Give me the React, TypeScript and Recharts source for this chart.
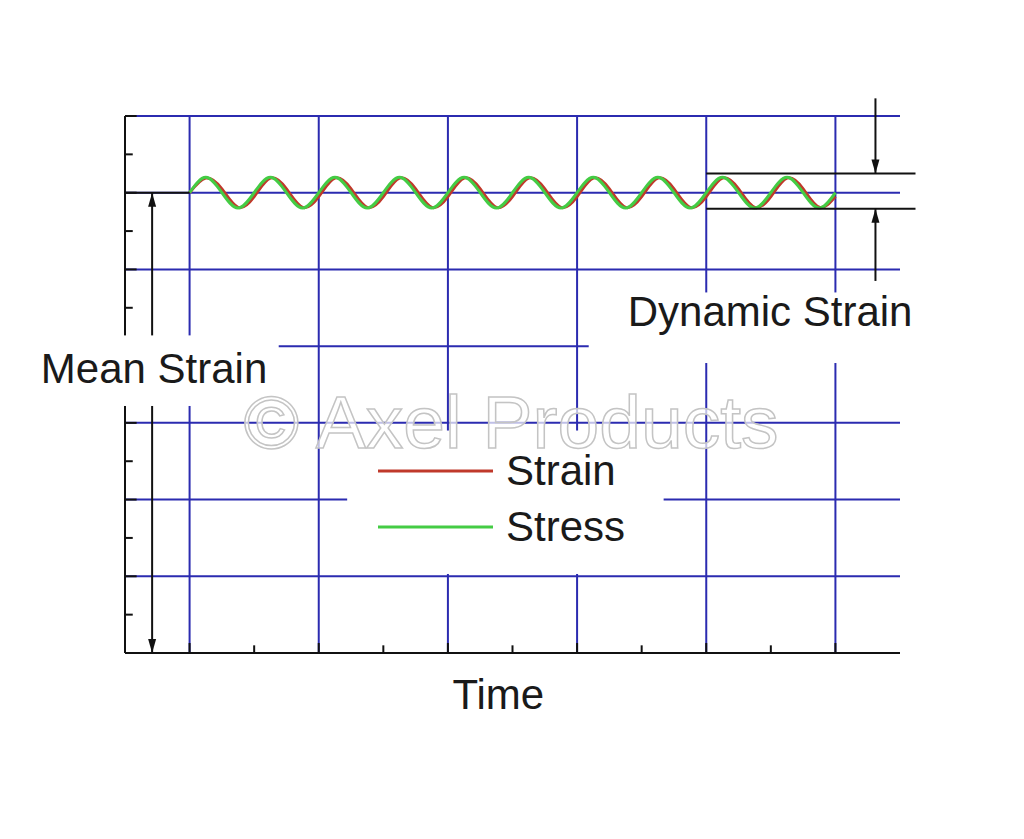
import React from 'react';
import { LineChart, Line, XAxis, YAxis, ReferenceLine, ReferenceArea, Legend } from 'recharts';

// readings: time in grid units, strain / stress sampled every quarter cycle
const time = [
  0, 0.125, 0.25, 0.375, 0.5, 0.625, 0.75, 0.875,
  1, 1.125, 1.25, 1.375, 1.5, 1.625, 1.75, 1.875,
  2, 2.125, 2.25, 2.375, 2.5, 2.625, 2.75, 2.875,
  3, 3.125, 3.25, 3.375, 3.5, 3.625, 3.75, 3.875,
  4, 4.125, 4.25, 4.375, 4.5, 4.625, 4.75, 4.875,
  5,
];
const stress = [
  6, 6.2, 6, 5.8, 6, 6.2, 6, 5.8,
  6, 6.2, 6, 5.8, 6, 6.2, 6, 5.8,
  6, 6.2, 6, 5.8, 6, 6.2, 6, 5.8,
  6, 6.2, 6, 5.8, 6, 6.2, 6, 5.8,
  6, 6.2, 6, 5.8, 6, 6.2, 6, 5.8,
  6,
];
const strain = [
  6, 6.19, 6.05, 5.81, 5.95, 6.19, 6.05, 5.81,
  5.95, 6.19, 6.05, 5.81, 5.95, 6.19, 6.05, 5.81,
  5.95, 6.19, 6.05, 5.81, 5.95, 6.19, 6.05, 5.81,
  5.95, 6.19, 6.05, 5.81, 5.95, 6.19, 6.05, 5.81,
  5.95, 6.19, 6.05, 5.81, 5.95, 6.19, 6.05, 5.81,
  5.95,
];

const xGrid = [0, 1, 2, 3, 4, 5];
const xMinor = [0.5, 1.5, 2.5, 3.5, 4.5];
const yGrid = [1, 2, 3, 4, 5, 6, 7];
const yMinor = [0.5, 1.5, 2.5, 3.5, 4.5, 5.5, 6.5];

const meanLevel = 6;
const dynUpper = 6.25;
const dynLower = 5.79;

const chartData = time.map((t, i) => ({ time: t, strain: strain[i], stress: stress[i] }));

const FONT = "'Liberation Sans', Arial, sans-serif";
const GRID = '#2b2bb0';
const INK = '#111';

const arrowShape = (heads: string[]) => (p: any) => {
  const { x1, y1, x2, y2 } = p;
  const dx = x2 - x1;
  const dy = y2 - y1;
  const len = Math.hypot(dx, dy) || 1;
  const ux = dx / len;
  const uy = dy / len;
  const head = (tx: number, ty: number, dirx: number, diry: number, k: string) => {
    const L = 14;
    const W = 4;
    const bx = tx - dirx * L;
    const by = ty - diry * L;
    return (
      <polygon
        key={k}
        points={`${tx},${ty} ${bx - diry * W},${by + dirx * W} ${bx + diry * W},${by - dirx * W}`}
        fill={INK}
      />
    );
  };
  return (
    <g>
      <line x1={x1} y1={y1} x2={x2} y2={y2} stroke={INK} strokeWidth={2} />
      {heads.includes('start') && head(x1, y1, -ux, -uy, 's')}
      {heads.includes('end') && head(x2, y2, ux, uy, 'e')}
    </g>
  );
};

const boxShape =
  (opts: { fill?: string; text?: string; tx: number | 'center'; ty: number | 'bottom'; size: number; watermark?: boolean }) =>
  (p: any) => {
    const { x, y, width, height } = p;
    const tx = opts.tx === 'center' ? x + width / 2 : x + opts.tx;
    const ty = opts.ty === 'bottom' ? y + height : y + opts.ty;
    return (
      <g>
        {opts.fill && <rect x={x} y={y} width={width} height={height} fill={opts.fill} />}
        {opts.text && (
          <text
            x={tx}
            y={ty}
            textAnchor={opts.tx === 'center' ? 'middle' : 'start'}
            fontFamily={FONT}
            fontSize={opts.size}
            fill={opts.watermark ? '#ffffff' : '#1a1a1a'}
            fillOpacity={opts.watermark ? 0.7 : 1}
            stroke={opts.watermark ? '#c4c4c4' : 'none'}
            strokeWidth={opts.watermark ? 1.5 : 0}
          >
            {opts.text}
          </text>
        )}
      </g>
    );
  };

const LegendContent = (props: any) => {
  const { payload = [] } = props;
  return (
    <div>
      {payload.map((e: any, i: number) => (
        <div key={i} style={{ display: 'flex', alignItems: 'center', height: 56 }}>
          <svg width={115} height={48} style={{ display: 'block' }}>
            <line x1={0} x2={115} y1={24} y2={24} stroke={e.color} strokeWidth={3} />
          </svg>
          <span style={{ marginLeft: 13, fontSize: 42, lineHeight: '48px', fontFamily: FONT, color: '#1a1a1a' }}>
            {e.value}
          </span>
        </div>
      ))}
    </div>
  );
};

export default function App() {
  return (
    <div style={{ position: 'absolute', left: 0, top: 0, width: 1024, height: 839, background: '#fff' }}>
      <LineChart
        width={1024}
        height={839}
        data={chartData}
        margin={{ top: 116, right: 124, bottom: 186, left: 125 }}
      >
        <XAxis dataKey="time" type="number" domain={[-0.5, 5.5]} allowDataOverflow hide />
        <YAxis type="number" domain={[0, 7]} allowDataOverflow hide />

        {/* blue grid */}
        {xGrid.map((v) => (
          <ReferenceLine key={`gx${v}`} x={v} stroke={GRID} strokeWidth={2} zIndex={100} />
        ))}
        {yGrid.map((v) => (
          <ReferenceLine key={`gy${v}`} y={v} stroke={GRID} strokeWidth={2} zIndex={100} />
        ))}

        <Line
          type="natural"
          dataKey="strain"
          name="Strain"
          stroke="#c0392b"
          strokeWidth={3}
          dot={false}
          activeDot={false}
          isAnimationActive={false}
          zIndex={400}
        />
        <Line
          type="natural"
          dataKey="stress"
          name="Stress"
          stroke="#44cc44"
          strokeWidth={3}
          dot={false}
          activeDot={false}
          isAnimationActive={false}
          zIndex={400}
        />

        {/* black axes and ticks */}
        <ReferenceLine segment={[{ x: -0.5, y: 0 }, { x: -0.5, y: 7 }]} stroke={INK} strokeWidth={2} ifOverflow="visible" zIndex={450} />
        <ReferenceLine segment={[{ x: -0.5, y: 0 }, { x: 5.5, y: 0 }]} stroke={INK} strokeWidth={2} ifOverflow="visible" zIndex={450} />
        <ReferenceLine segment={[{ x: -0.5, y: meanLevel }, { x: 0, y: meanLevel }]} stroke={INK} strokeWidth={2} ifOverflow="visible" zIndex={450} />
        {yGrid.map((v) => (
          <ReferenceLine key={`ty${v}`} segment={[{ x: -0.5, y: v }, { x: -0.41, y: v }]} stroke={INK} strokeWidth={2} ifOverflow="visible" zIndex={450} />
        ))}
        {yMinor.map((v) => (
          <ReferenceLine key={`my${v}`} segment={[{ x: -0.5, y: v }, { x: -0.44, y: v }]} stroke={INK} strokeWidth={2} ifOverflow="visible" zIndex={450} />
        ))}
        {xGrid.map((v) => (
          <ReferenceLine key={`tx${v}`} segment={[{ x: v, y: 0 }, { x: v, y: 0.13 }]} stroke={INK} strokeWidth={2} ifOverflow="visible" zIndex={450} />
        ))}
        {xMinor.map((v) => (
          <ReferenceLine key={`mx${v}`} segment={[{ x: v, y: 0 }, { x: v, y: 0.1 }]} stroke={INK} strokeWidth={2} ifOverflow="visible" zIndex={450} />
        ))}

        {/* dynamic strain bounds and arrows */}
        <ReferenceLine segment={[{ x: 4, y: dynUpper }, { x: 5.62, y: dynUpper }]} stroke={INK} strokeWidth={2} ifOverflow="visible" zIndex={450} />
        <ReferenceLine segment={[{ x: 4, y: dynLower }, { x: 5.62, y: dynLower }]} stroke={INK} strokeWidth={2} ifOverflow="visible" zIndex={450} />
        <ReferenceLine
          segment={[{ x: 5.31, y: 7.23 }, { x: 5.31, y: dynUpper }]}
          ifOverflow="visible"
          shape={arrowShape(['end'])}
          zIndex={450}
        />
        <ReferenceLine
          segment={[{ x: 5.31, y: 4.85 }, { x: 5.31, y: dynLower }]}
          ifOverflow="visible"
          shape={arrowShape(['end'])}
          zIndex={450}
        />
        {/* mean strain arrow */}
        <ReferenceLine
          segment={[{ x: -0.29, y: meanLevel }, { x: -0.29, y: 0 }]}
          ifOverflow="visible"
          shape={arrowShape(['start', 'end'])}
          zIndex={450}
        />

        {/* label boxes */}
        <ReferenceArea
          x1={-1.24}
          x2={0.69}
          y1={3.22}
          y2={4.14}
          ifOverflow="visible"
          shape={boxShape({ fill: '#fff', text: 'Mean Strain', tx: 'center', ty: 48, size: 42 })}
          zIndex={500}
        />
        <ReferenceArea
          x1={3.09}
          x2={5.62}
          y1={3.78}
          y2={4.7}
          ifOverflow="visible"
          shape={boxShape({ fill: '#fff', text: 'Dynamic Strain', tx: 39, ty: 34, size: 42 })}
          zIndex={500}
        />
        <ReferenceArea x1={1.22} x2={3.67} y1={1.03} y2={2.9} ifOverflow="visible" shape={boxShape({ fill: '#fff', tx: 0, ty: 0, size: 42 })} zIndex={500} />
        <ReferenceArea
          x1={2.0}
          x2={2.78}
          y1={-0.727}
          y2={-0.3}
          ifOverflow="visible"
          shape={boxShape({ text: 'Time', tx: 'center', ty: 'bottom', size: 42 })}
          zIndex={500}
        />
        <ReferenceArea
          x1={0.41}
          x2={4.57}
          y1={2.675}
          y2={3.4}
          ifOverflow="visible"
          shape={boxShape({ text: '© Axel Products', tx: 'center', ty: 'bottom', size: 75, watermark: true })}
          zIndex={600}
        />

        <Legend
          layout="vertical"
          align="center"
          verticalAlign="middle"
          content={<LegendContent />}
          wrapperStyle={{ left: 378, top: 443, width: 'auto', height: 'auto' }}
        />
      </LineChart>
    </div>
  );
}
